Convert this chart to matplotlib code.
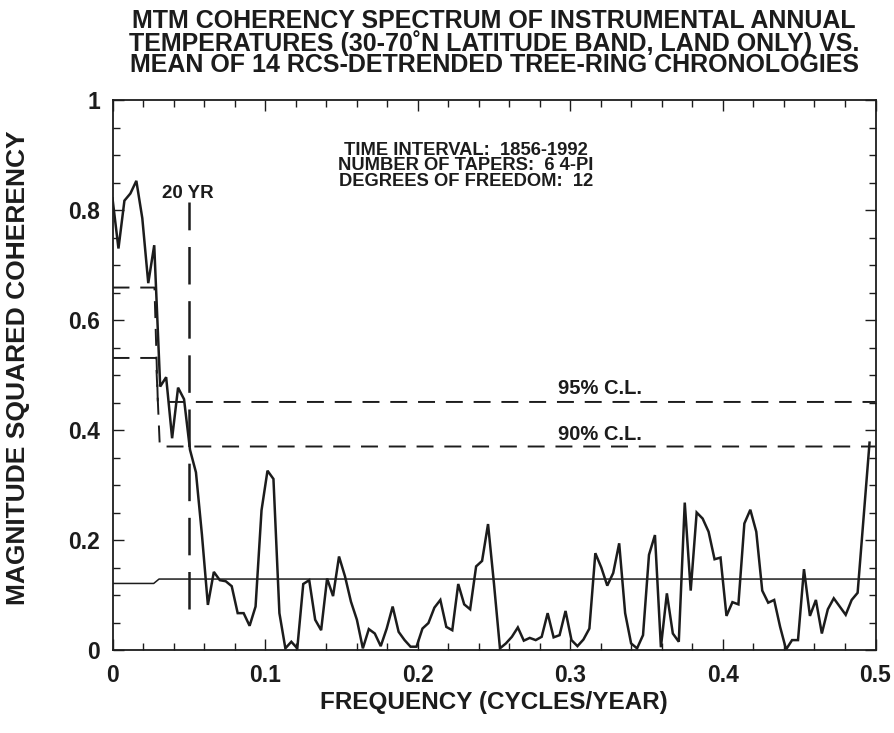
import numpy as np
import matplotlib
matplotlib.use("Agg")
import matplotlib.pyplot as plt
from matplotlib.ticker import MultipleLocator, FixedFormatter, FixedLocator

plt.rcParams['font.family'] = ['Liberation Sans', 'DejaVu Sans']
plt.rcParams['font.weight'] = 'bold'
plt.rcParams['lines.scale_dashes'] = False

# ---- data ----
df = 1.0 / 256.0
coherency = [
    0.821, 0.730, 0.817, 0.830, 0.853, 0.785, 0.667, 0.736, 0.479, 0.496,
    0.385, 0.477, 0.456, 0.364, 0.323, 0.210, 0.082, 0.142, 0.127, 0.125,
    0.116, 0.067, 0.067, 0.044, 0.079, 0.254, 0.326, 0.311, 0.067, 0.003,
    0.015, 0.003, 0.120, 0.127, 0.055, 0.036, 0.130, 0.098, 0.170, 0.134,
    0.088, 0.055, 0.003, 0.038, 0.030, 0.007, 0.039, 0.079, 0.033, 0.018,
    0.006, 0.006, 0.039, 0.049, 0.077, 0.091, 0.042, 0.036, 0.120, 0.083,
    0.074, 0.152, 0.162, 0.229, 0.120, 0.003, 0.012, 0.024, 0.041, 0.017,
    0.022, 0.018, 0.024, 0.067, 0.023, 0.027, 0.071, 0.018, 0.007, 0.019,
    0.039, 0.176, 0.150, 0.117, 0.140, 0.194, 0.067, 0.012, 0.003, 0.027,
    0.173, 0.209, 0.005, 0.103, 0.030, 0.015, 0.268, 0.108, 0.250, 0.239,
    0.215, 0.165, 0.168, 0.062, 0.087, 0.083, 0.230, 0.255, 0.215, 0.108,
    0.086, 0.091, 0.042, 0.001, 0.018, 0.018, 0.147, 0.062, 0.091, 0.030,
    0.074, 0.094, 0.079, 0.064, 0.091, 0.104, 0.240, 0.377,
]
freq = np.arange(len(coherency)) * df

cl95_f = [0.0, 0.0275, 0.0297, 0.5]
cl95_v = [0.659, 0.659, 0.451, 0.451]
cl90_f = [0.0, 0.0285, 0.0310, 0.5]
cl90_v = [0.531, 0.531, 0.370, 0.370]
median_f = [0.0, 0.027, 0.0305, 0.5]
median_v = [0.121, 0.121, 0.129, 0.129]
yr20_f = [0.05, 0.05]
yr20_v = [0.075, 0.815]

xtick_vals = [0, 0.1, 0.2, 0.3, 0.4, 0.5]
xtick_labels = ['0', '0.1', '0.2', '0.3', '0.4', '0.5']
ytick_vals = [0, 0.2, 0.4, 0.6, 0.8, 1.0]
ytick_labels = ['0', '0.2', '0.4', '0.6', '0.8', '1']

title_lines = ["MTM COHERENCY SPECTRUM OF INSTRUMENTAL ANNUAL",
               "TEMPERATURES (30-70\u02daN LATITUDE BAND, LAND ONLY) VS.",
               "MEAN OF 14 RCS-DETRENDED TREE-RING CHRONOLOGIES"]
info_lines = ["TIME INTERVAL:  1856-1992",
              "NUMBER OF TAPERS:  6 4-PI",
              "DEGREES OF FREEDOM:  12"]

W, H = 894, 733
fig = plt.figure(figsize=(W / 100, H / 100), dpi=100)
L, R, T, B = 112.5, 875.5, 100, 650
ax = fig.add_axes([L / W, 1 - B / H, (R - L) / W, (B - T) / H])

ink = '#1c1c1c'

ax.plot(freq, coherency, color=ink, lw=1.8, solid_joinstyle='miter')
ax.plot(median_f, median_v, color=ink, lw=1.1)
ax.plot(cl95_f, cl95_v, color=ink, lw=1.4, dashes=(12.2, 7.8))
ax.plot(cl90_f, cl90_v, color=ink, lw=1.4, dashes=(12.2, 7.8))
ax.plot(yr20_f, yr20_v, color=ink, lw=1.8, dashes=(27, 12))

ax.set_xlim(0, 0.5)
ax.set_ylim(0, 1)
ax.xaxis.set_major_locator(FixedLocator(xtick_vals))
ax.xaxis.set_major_formatter(FixedFormatter(xtick_labels))
ax.xaxis.set_minor_locator(MultipleLocator(0.02))
ax.yaxis.set_major_locator(FixedLocator(ytick_vals))
ax.yaxis.set_major_formatter(FixedFormatter(ytick_labels))
ax.yaxis.set_minor_locator(MultipleLocator(0.05))
ax.tick_params(which='both', direction='in', top=True, right=True, color=ink, width=1.0)
ax.tick_params(which='major', length=8, labelsize=16.5, labelcolor=ink)
ax.tick_params(axis='x', which='major', pad=10)
ax.tick_params(axis='y', which='major', pad=9)
ax.tick_params(which='minor', length=5)
for lab in ax.get_xticklabels() + ax.get_yticklabels():
    lab.set_fontweight('bold')
for s in ax.spines.values():
    s.set_linewidth(1.3)
    s.set_color(ink)

fig.text((L + R) / 2 / W, 1 - 703 / H, "FREQUENCY (CYCLES/YEAR)", ha='center', va='center',
         fontsize=17.5, fontweight='bold', color=ink)
fig.text(18 / W, 1 - 368 / H, "MAGNITUDE SQUARED COHERENCY", ha='center', va='center',
         rotation=90, fontsize=19, fontweight='bold', color=ink)

fig.text((L + R) / 2 / W, 1 - 43 / H, "\n".join(title_lines), ha='center', va='center',
         fontsize=18, fontweight='bold', color=ink, linespacing=0.84)

fig.text(466 / W, 1 - 166 / H, "\n".join(info_lines), ha='center', va='center',
         fontsize=13.2, fontweight='bold', color=ink, linespacing=0.92)

fig.text(162 / W, 1 - 193 / H, "20 YR", ha='left', va='center', fontsize=13.5,
         fontweight='bold', color=ink)
fig.text(558 / W, 1 - 388 / H, "95% C.L.", ha='left', va='center', fontsize=14.5,
         fontweight='bold', color=ink)
fig.text(558 / W, 1 - 435 / H, "90% C.L.", ha='left', va='center', fontsize=14.5,
         fontweight='bold', color=ink)

fig.savefig("out.png", dpi=100)
